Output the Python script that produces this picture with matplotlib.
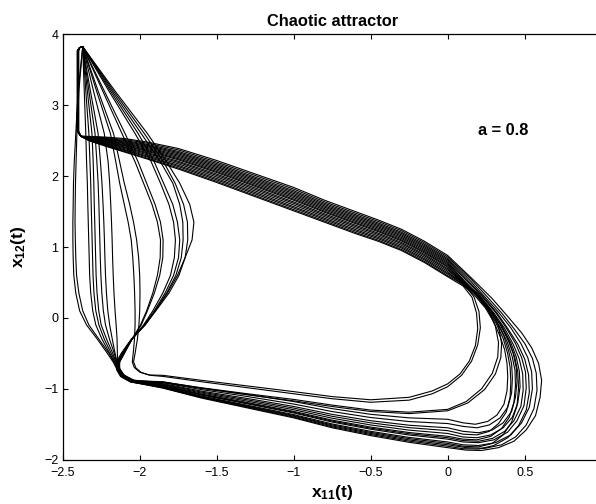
import matplotlib
matplotlib.use("Agg")
import matplotlib.pyplot as plt

plt.rcParams['font.family'] = ['Liberation Sans', 'DejaVu Sans']
plt.rcParams['mathtext.fontset'] = 'custom'
plt.rcParams['mathtext.rm'] = 'Liberation Sans'
plt.rcParams['mathtext.bf'] = 'Liberation Sans:bold'

# ---------------- data (17 laps of the trajectory) ----------------
PEAK = (-2.37, 3.825)

# descending branch: x at these y levels, one list per lap
DESC_Y = [3.825, 3.2, 2.6, 2.2, 1.9, 1.6, 1.35, 1.1, 0.85, 0.6, 0.35, 0.1, -0.1, -0.3, -0.5]
DESC_X = [
    [-2.37, -2.40, -2.415, -2.425, -2.43, -2.432, -2.434, -2.434, -2.432, -2.428, -2.415, -2.39, -2.345, -2.275, -2.21],
    [-2.37, -2.395, -2.408, -2.413, -2.417, -2.419, -2.42, -2.418, -2.415, -2.41, -2.395, -2.37, -2.33, -2.265, -2.20],
    [-2.37, -2.36, -2.35, -2.345, -2.34, -2.337, -2.334, -2.331, -2.328, -2.325, -2.318, -2.305, -2.285, -2.245, -2.195],
    [-2.37, -2.35, -2.33, -2.323, -2.318, -2.315, -2.312, -2.309, -2.306, -2.303, -2.297, -2.285, -2.265, -2.23, -2.185],
    [-2.37, -2.34, -2.31, -2.302, -2.298, -2.295, -2.292, -2.289, -2.286, -2.283, -2.277, -2.266, -2.25, -2.215, -2.175],
    [-2.37, -2.33, -2.29, -2.278, -2.27, -2.265, -2.262, -2.259, -2.256, -2.252, -2.246, -2.236, -2.222, -2.196, -2.165],
    [-2.37, -2.32, -2.27, -2.255, -2.245, -2.238, -2.233, -2.229, -2.226, -2.222, -2.216, -2.207, -2.195, -2.178, -2.16],
    [-2.37, -2.30, -2.23, -2.205, -2.195, -2.188, -2.183, -2.179, -2.176, -2.172, -2.167, -2.16, -2.153, -2.147, -2.145],
    [-2.37, -2.28, -2.19, -2.155, -2.13, -2.10, -2.075, -2.055, -2.045, -2.038, -2.033, -2.03, -2.03, -2.034, -2.042],
    [-2.37, -2.27, -2.17, -2.13, -2.10, -2.065, -2.04, -2.02, -2.007, -2.0, -1.998, -2.0, -2.005, -2.015, -2.03],
    [-2.37, -2.24, -2.115, -2.03, -1.975, -1.92, -1.885, -1.865, -1.867, -1.885, -1.915, -1.955, -1.995, -2.05, -2.10],
    [-2.37, -2.23, -2.095, -2.01, -1.955, -1.90, -1.865, -1.848, -1.85, -1.87, -1.905, -1.95, -1.99, -2.05, -2.10],
    [-2.37, -2.20, -2.03, -1.925, -1.865, -1.81, -1.78, -1.768, -1.775, -1.80, -1.85, -1.915, -1.975, -2.05, -2.105],
    [-2.37, -2.19, -2.01, -1.905, -1.845, -1.785, -1.755, -1.74, -1.748, -1.78, -1.835, -1.905, -1.97, -2.05, -2.11],
    [-2.37, -2.18, -1.99, -1.865, -1.785, -1.74, -1.72, -1.718, -1.73, -1.765, -1.825, -1.90, -1.968, -2.05, -2.112],
    [-2.37, -2.17, -1.97, -1.845, -1.77, -1.715, -1.69, -1.688, -1.705, -1.745, -1.81, -1.895, -1.965, -2.052, -2.115],
    [-2.37, -2.16, -1.95, -1.825, -1.74, -1.675, -1.648, -1.66, -1.705, -1.755, -1.82, -1.90, -1.965, -2.055, -2.12],
]

# lower-left corner of each lap
CORNERS = [
    [(-2.17, -0.63), (-2.145, -0.74), (-2.115, -0.835), (-2.05, -0.905)],
    [(-2.165, -0.63), (-2.14, -0.735), (-2.11, -0.825), (-2.05, -0.89)],
    [(-2.16, -0.63), (-2.14, -0.74), (-2.11, -0.83), (-2.045, -0.905)],
    [(-2.155, -0.63), (-2.138, -0.735), (-2.108, -0.828), (-2.045, -0.90)],
    [(-2.152, -0.63), (-2.135, -0.74), (-2.105, -0.832), (-2.04, -0.905)],
    [(-2.148, -0.635), (-2.132, -0.74), (-2.103, -0.83), (-2.04, -0.90)],
    [(-2.146, -0.63), (-2.13, -0.735), (-2.10, -0.825), (-2.035, -0.895)],
    [(-2.142, -0.62), (-2.128, -0.725), (-2.098, -0.815), (-2.035, -0.88)],
    [(-2.048, -0.62), (-2.035, -0.70), (-2.0, -0.765), (-1.94, -0.805)],
    [(-2.04, -0.62), (-2.025, -0.705), (-1.99, -0.77), (-1.93, -0.81)],
    [(-2.13, -0.62), (-2.135, -0.72), (-2.11, -0.81), (-2.05, -0.885)],
    [(-2.13, -0.62), (-2.13, -0.715), (-2.105, -0.80), (-2.045, -0.875)],
    [(-2.135, -0.62), (-2.135, -0.72), (-2.11, -0.81), (-2.05, -0.89)],
    [(-2.14, -0.62), (-2.14, -0.725), (-2.115, -0.82), (-2.055, -0.895)],
    [(-2.14, -0.625), (-2.14, -0.73), (-2.115, -0.82), (-2.05, -0.895)],
    [(-2.145, -0.625), (-2.145, -0.735), (-2.12, -0.825), (-2.06, -0.90)],
    [(-2.15, -0.62), (-2.15, -0.73), (-2.125, -0.825), (-2.06, -0.905)],
]

# lower band: y at these x levels
LOW_X = [-1.85, -1.6, -1.3, -1.0, -0.75, -0.5, -0.25]
LOW_Y = [
    [-0.99, -1.13, -1.27, -1.41, -1.55, -1.66, -1.755],
    [-0.905, -0.985, -1.07, -1.15, -1.23, -1.30, -1.33],
    [-0.963, -1.088, -1.213, -1.341, -1.469, -1.57, -1.652],
    [-0.927, -1.032, -1.137, -1.249, -1.361, -1.45, -1.514],
    [-0.972, -1.102, -1.232, -1.364, -1.496, -1.60, -1.686],
    [-0.914, -1.011, -1.109, -1.215, -1.321, -1.405, -1.462],
    [-0.945, -1.06, -1.175, -1.295, -1.415, -1.51, -1.583],
    [-0.91, -0.995, -1.085, -1.17, -1.25, -1.32, -1.35],
    [-0.81, -0.88, -0.96, -1.04, -1.11, -1.155, -1.12],
    [-0.825, -0.90, -0.985, -1.07, -1.14, -1.19, -1.16],
    [-0.90, -0.99, -1.08, -1.18, -1.28, -1.36, -1.41],
    [-0.954, -1.074, -1.194, -1.318, -1.442, -1.54, -1.617],
    [-0.981, -1.116, -1.251, -1.387, -1.523, -1.63, -1.721],
    [-0.959, -1.081, -1.204, -1.33, -1.456, -1.555, -1.634],
    [-0.936, -1.046, -1.156, -1.272, -1.388, -1.48, -1.548],
    [-0.986, -1.123, -1.261, -1.399, -1.537, -1.645, -1.738],
    [-0.977, -1.109, -1.242, -1.376, -1.51, -1.615, -1.703],
]

# right-hand turn of each lap
RIGHT_END = [
    [(0.0, -1.83), (0.12, -1.865), (0.22, -1.87), (0.33, -1.83), (0.43, -1.74), (0.51, -1.58), (0.57, -1.38),
     (0.60, -1.12), (0.61, -0.88), (0.59, -0.64), (0.545, -0.42), (0.48, -0.21), (0.39, 0.02), (0.29, 0.27), (0.16, 0.55)],
    [(0.0, -1.29), (0.12, -1.18), (0.22, -1.0), (0.29, -0.78), (0.325, -0.55), (0.33, -0.35),
     (0.31, -0.12), (0.26, 0.12), (0.19, 0.33), (0.1, 0.48)],
    [(0.0, -1.71), (0.1, -1.75), (0.2, -1.76), (0.3, -1.72), (0.39, -1.61), (0.45, -1.45), (0.495, -1.24),
     (0.51, -0.99), (0.505, -0.76), (0.48, -0.56), (0.44, -0.36), (0.38, -0.14), (0.31, 0.08), (0.22, 0.31), (0.12, 0.53)],
    [(0.0, -1.55), (0.1, -1.6), (0.2, -1.62), (0.29, -1.58), (0.36, -1.48), (0.415, -1.32), (0.44, -1.12),
     (0.45, -0.9), (0.445, -0.7), (0.425, -0.5), (0.39, -0.3), (0.34, -0.09), (0.275, 0.12), (0.19, 0.33), (0.09, 0.52)],
    [(0.0, -1.75), (0.1, -1.79), (0.2, -1.80), (0.31, -1.76), (0.41, -1.65), (0.48, -1.48), (0.53, -1.26),
     (0.55, -1.0), (0.545, -0.76), (0.52, -0.56), (0.475, -0.36), (0.41, -0.14), (0.33, 0.08), (0.24, 0.3), (0.14, 0.54)],
    [(0.0, -1.49), (0.1, -1.53), (0.19, -1.55), (0.27, -1.51), (0.34, -1.41), (0.39, -1.26), (0.415, -1.06),
     (0.42, -0.85), (0.415, -0.65), (0.395, -0.46), (0.365, -0.26), (0.32, -0.06), (0.26, 0.14), (0.18, 0.34), (0.09, 0.51)],
    [(0.0, -1.63), (0.1, -1.68), (0.19, -1.69), (0.28, -1.65), (0.36, -1.55), (0.42, -1.4), (0.455, -1.2),
     (0.47, -0.97), (0.465, -0.75), (0.445, -0.55), (0.41, -0.35), (0.355, -0.13), (0.29, 0.08), (0.2, 0.31), (0.1, 0.52)],
    [(0.0, -1.31), (0.13, -1.2), (0.24, -1.01), (0.31, -0.79), (0.345, -0.56), (0.35, -0.36),
     (0.33, -0.12), (0.28, 0.12), (0.2, 0.34), (0.1, 0.5)],
    [(-0.1, -1.03), (0.0, -0.93), (0.08, -0.79), (0.14, -0.61), (0.18, -0.39), (0.195, -0.15),
     (0.187, 0.07), (0.158, 0.29), (0.1, 0.45)],
    [(-0.1, -1.07), (0.0, -0.97), (0.09, -0.81), (0.155, -0.61), (0.195, -0.38), (0.212, -0.14),
     (0.203, 0.09), (0.17, 0.30), (0.11, 0.46)],
    [(0.0, -1.43), (0.1, -1.48), (0.18, -1.50), (0.26, -1.46), (0.32, -1.37), (0.365, -1.22), (0.385, -1.03),
     (0.39, -0.83), (0.385, -0.64), (0.37, -0.45), (0.34, -0.26), (0.3, -0.06), (0.245, 0.14), (0.17, 0.33), (0.08, 0.5)],
    [(0.0, -1.67), (0.1, -1.71), (0.19, -1.72), (0.28, -1.67), (0.35, -1.56), (0.4, -1.4), (0.43, -1.19),
     (0.44, -0.96), (0.437, -0.74), (0.418, -0.54), (0.385, -0.33), (0.335, -0.11), (0.27, 0.1), (0.19, 0.32), (0.09, 0.52)],
    [(0.0, -1.79), (0.12, -1.83), (0.24, -1.84), (0.35, -1.79), (0.44, -1.68), (0.51, -1.51), (0.56, -1.28),
     (0.58, -1.02), (0.575, -0.78), (0.55, -0.57), (0.50, -0.36), (0.43, -0.15), (0.35, 0.07), (0.26, 0.29), (0.15, 0.55)],
    [(0.0, -1.69), (0.1, -1.73), (0.2, -1.74), (0.29, -1.7), (0.37, -1.6), (0.43, -1.45), (0.475, -1.25),
     (0.49, -1.02), (0.487, -0.79), (0.465, -0.58), (0.425, -0.37), (0.37, -0.15), (0.3, 0.07), (0.21, 0.3), (0.11, 0.52)],
    [(0.0, -1.59), (0.1, -1.64), (0.19, -1.65), (0.27, -1.6), (0.33, -1.49), (0.38, -1.33), (0.405, -1.12),
     (0.41, -0.9), (0.405, -0.69), (0.388, -0.49), (0.36, -0.29), (0.315, -0.08), (0.255, 0.13), (0.18, 0.33), (0.09, 0.51)],
    [(0.0, -1.81), (0.1, -1.845), (0.2, -1.85), (0.3, -1.8), (0.39, -1.69), (0.46, -1.52), (0.51, -1.3),
     (0.53, -1.05), (0.525, -0.8), (0.5, -0.58), (0.455, -0.37), (0.39, -0.15), (0.32, 0.07), (0.23, 0.3), (0.13, 0.53)],
    [(0.0, -1.77), (0.1, -1.81), (0.2, -1.82), (0.29, -1.77), (0.36, -1.65), (0.415, -1.47), (0.45, -1.24),
     (0.46, -0.99), (0.455, -0.76), (0.435, -0.55), (0.4, -0.34), (0.35, -0.12), (0.285, 0.09), (0.2, 0.31), (0.1, 0.53)],
]

# upper band: y at these x levels
UP_X = [0.0, -0.15, -0.3, -0.45, -0.6, -0.8, -1.0, -1.25, -1.5, -1.75, -1.95, -2.1, -2.22, -2.33]
UP_Y = [
    [0.88, 1.08, 1.25, 1.38, 1.50, 1.66, 1.84, 2.03, 2.22, 2.39, 2.48, 2.53, 2.55, 2.56],
    [0.616, 0.816, 0.986, 1.116, 1.227, 1.387, 1.55, 1.748, 1.947, 2.135, 2.269, 2.363, 2.436, 2.507],
    [0.802, 1.002, 1.172, 1.302, 1.419, 1.579, 1.754, 1.947, 2.139, 2.315, 2.418, 2.481, 2.516, 2.544],
    [0.715, 0.915, 1.085, 1.215, 1.33, 1.49, 1.659, 1.854, 2.05, 2.231, 2.348, 2.426, 2.479, 2.527],
    [0.838, 1.038, 1.208, 1.338, 1.457, 1.617, 1.794, 1.985, 2.177, 2.349, 2.446, 2.503, 2.532, 2.552],
    [0.676, 0.876, 1.046, 1.176, 1.289, 1.449, 1.616, 1.812, 2.009, 2.193, 2.317, 2.401, 2.462, 2.519],
    [0.748, 0.948, 1.118, 1.248, 1.364, 1.524, 1.695, 1.889, 2.084, 2.262, 2.374, 2.446, 2.493, 2.534],
    [0.634, 0.834, 1.004, 1.134, 1.246, 1.406, 1.569, 1.768, 1.966, 2.152, 2.283, 2.374, 2.443, 2.511],
    [0.58, 0.78, 0.95, 1.08, 1.19, 1.35, 1.51, 1.71, 1.91, 2.10, 2.24, 2.34, 2.42, 2.50],
    [0.595, 0.795, 0.965, 1.095, 1.206, 1.366, 1.527, 1.726, 1.926, 2.115, 2.252, 2.35, 2.427, 2.503],
    [0.655, 0.855, 1.025, 1.155, 1.268, 1.428, 1.593, 1.79, 1.988, 2.173, 2.30, 2.388, 2.453, 2.515],
    [0.73, 0.93, 1.10, 1.23, 1.345, 1.505, 1.675, 1.87, 2.065, 2.245, 2.36, 2.435, 2.485, 2.53],
    [0.859, 1.059, 1.229, 1.359, 1.478, 1.638, 1.817, 2.008, 2.198, 2.37, 2.463, 2.517, 2.541, 2.556],
    [0.784, 0.984, 1.154, 1.284, 1.401, 1.561, 1.734, 1.928, 2.121, 2.297, 2.403, 2.469, 2.508, 2.541],
    [0.694, 0.894, 1.064, 1.194, 1.308, 1.468, 1.635, 1.832, 2.028, 2.21, 2.331, 2.412, 2.469, 2.523],
    [0.82, 1.02, 1.19, 1.32, 1.438, 1.598, 1.774, 1.966, 2.158, 2.332, 2.432, 2.492, 2.524, 2.548],
    [0.766, 0.966, 1.136, 1.266, 1.382, 1.542, 1.715, 1.908, 2.102, 2.28, 2.389, 2.458, 2.501, 2.537],
]

# vertical rise back to the peak
VERT_X = [-2.405, -2.400, -2.398, -2.403, -2.401, -2.397, -2.404, -2.399, -2.396, -2.402,
          -2.400, -2.403, -2.398, -2.401, -2.405, -2.399, -2.402]
VERT_Y = [2.63, 3.2, 3.77]
VERT_BOTTOM = (-2.382, 2.562)
VERT_TOP = (-2.39, 3.812)

TITLE = "Chaotic attractor"
ANNOT = "a = 0.8"
ANNOT_POS = (0.195, 2.65)
XTICKS = [-2.5, -2, -1.5, -1, -0.5, 0, 0.5]
XTICKLABELS = ['\u22122.5', '\u22122', '\u22121.5', '\u22121', '\u22120.5', '0', '0.5']
YTICKS = [-2, -1, 0, 1, 2, 3, 4]
YTICKLABELS = ['\u22122', '\u22121', '0', '1', '2', '3', '4']

# ---------------- plotting ----------------
fig = plt.figure(figsize=(5.96, 5.04), dpi=100)
ax = fig.add_axes([62.7 / 596, (504 - 459.7) / 504, 539 / 596, 425.4 / 504])

for i in range(len(DESC_X)):
    xs = list(DESC_X[i])
    ys = list(DESC_Y)
    for (cx, cy) in CORNERS[i]:
        xs.append(cx); ys.append(cy)
    xs += LOW_X
    ys += LOW_Y[i]
    for (rx, ry) in RIGHT_END[i]:
        xs.append(rx); ys.append(ry)
    xs += UP_X
    ys += UP_Y[i]
    xs.append(VERT_BOTTOM[0]); ys.append(VERT_BOTTOM[1])
    for vy in VERT_Y:
        xs.append(VERT_X[i]); ys.append(vy)
    xs.append(VERT_TOP[0]); ys.append(VERT_TOP[1])
    xs.append(PEAK[0]); ys.append(PEAK[1])
    ax.plot(xs, ys, color='black', lw=0.8, solid_joinstyle='round')

ax.set_xlim(-2.5, 1.0)
ax.set_ylim(-2, 4)
ax.set_xticks(XTICKS)
ax.set_xticklabels(XTICKLABELS)
ax.set_yticks(YTICKS)
ax.set_yticklabels(YTICKLABELS)
ax.tick_params(direction='in', length=3.6, width=0.8, labelsize=9, top=True, right=True)
ax.tick_params(axis='x', pad=5)
ax.tick_params(axis='y', pad=3)
for sp in ax.spines.values():
    sp.set_linewidth(0.9)

ax.set_title(TITLE, fontsize=11.8, fontweight='bold', pad=6)
ax.text(ANNOT_POS[0], ANNOT_POS[1], ANNOT, fontsize=11.8, fontweight='bold', ha='left', va='center')
ax.set_xlabel(r'$\mathbf{x_{11}(t)}$', fontsize=12.5, labelpad=3)
ax.set_ylabel(r'$\mathbf{x_{12}(t)}$', fontsize=12.5, labelpad=12)

fig.savefig("out.png", dpi=100)
